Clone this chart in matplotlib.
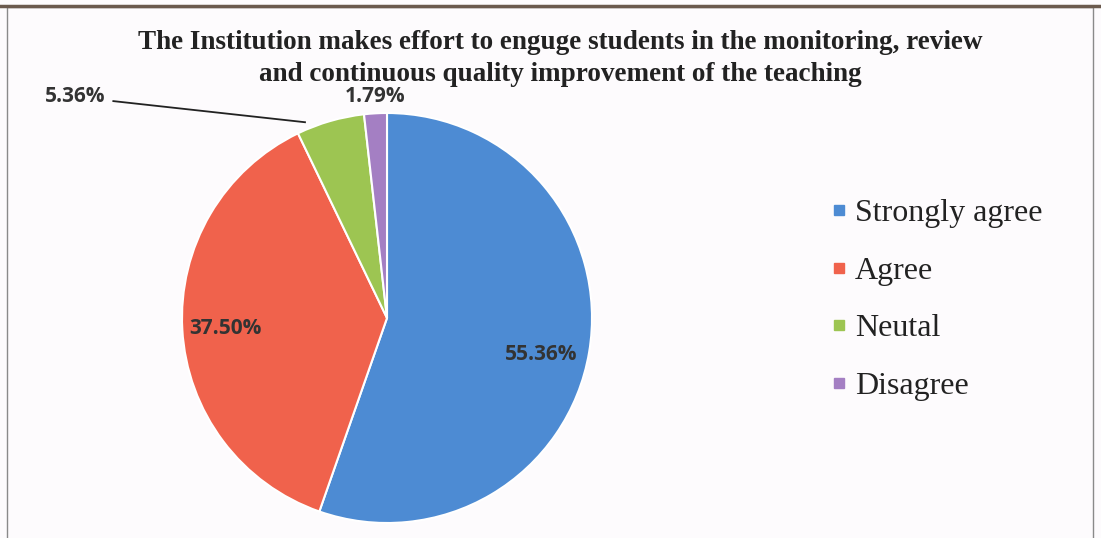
import matplotlib
matplotlib.use("Agg")
import matplotlib.pyplot as plt
from matplotlib.lines import Line2D
from matplotlib.patches import Rectangle

categories = ["Strongly agree", "Agree", "Neutal", "Disagree"]
values = [55.36, 37.50, 5.36, 1.79]
pct_labels = ["55.36%", "37.50%", "5.36%", "1.79%"]
colors = ["#4D8BD3", "#F0624C", "#9DC552", "#A47FC3"]
title = ("The Institution makes effort to enguge students in the monitoring, review\n"
         "and continuous quality improvement of the teaching")

W, H = 1101, 538
fig = plt.figure(figsize=(W / 100, H / 100), dpi=100)
fig.patch.set_facecolor("#FDFBFD")

# frame
fig.patches.append(Rectangle((7 / W, -0.1), (1093 - 7) / W, (H - 7) / H + 0.1,
                             transform=fig.transFigure, fill=False,
                             edgecolor="#8A8A8A", linewidth=1.0))
fig.add_artist(Line2D([0, 1], [1 - 6 / H, 1 - 6 / H], transform=fig.transFigure,
                      color="#6B5A4E", linewidth=2.5))

cx, cy, r = 387, 318, 205
ax = fig.add_axes([(cx - r) / W, (H - cy - r) / H, 2 * r / W, 2 * r / H])
ax.set_aspect("equal")
wedges, _ = ax.pie(values, colors=colors, startangle=90, counterclock=False,
                   wedgeprops=dict(edgecolor="white", linewidth=1.5))
ax.set_xlim(-1, 1)
ax.set_ylim(-1, 1)
ax.axis("off")

lab_font = dict(family=["Open Sans", "DejaVu Sans"], fontsize=15, fontweight="bold",
                color="#333333")
ax.text(0.75, -0.18, pct_labels[0], ha="center", va="center", **lab_font)
ax.text(-0.79, -0.05, pct_labels[1], ha="center", va="center", **lab_font)
ax.text(-1.52, 1.08, pct_labels[2], ha="center", va="center", clip_on=False, **lab_font)
ax.text(-0.06, 1.08, pct_labels[3], ha="center", va="center", clip_on=False, **lab_font)
ax.plot([-1.335, -0.40], [1.058, 0.955], color="#222222", linewidth=1.3, clip_on=False)

fig.text(560 / W, 1 - 58.5 / H, title, ha="center", va="center",
         family=["Liberation Serif"], fontweight="bold", fontsize=19.5,
         color="#222222", linespacing=1.4)

handles = [Line2D([], [], marker="s", linestyle="none", markersize=7.5,
                  markerfacecolor=c, markeredgecolor=c) for c in colors]
leg = fig.legend(handles, categories, loc="upper left",
                 bbox_to_anchor=(815 / W, 1 - 183 / H), frameon=False,
                 prop=dict(family="Liberation Serif", size=23),
                 labelspacing=0.88, handlelength=0.5, handletextpad=0.25,
                 borderpad=0)
for t in leg.get_texts():
    t.set_color("#222222")

fig.savefig("out.png", dpi=100, facecolor=fig.get_facecolor())
